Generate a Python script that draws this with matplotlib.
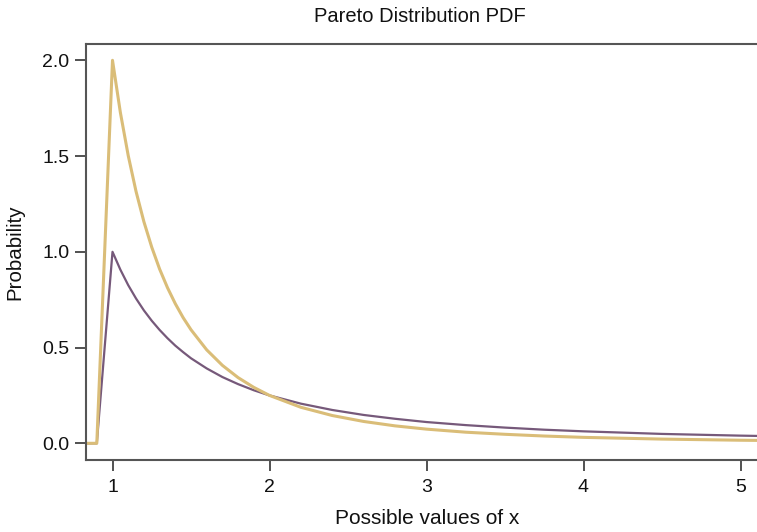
import matplotlib
matplotlib.use("Agg")
from matplotlib import pyplot as plt

# valores
x = [0.0, 0.9, 1.0, 1.05, 1.1, 1.15, 1.2, 1.25, 1.3, 1.35, 1.4, 1.45, 1.5, 1.6, 1.7,
     1.8, 1.9, 2.0, 2.2, 2.4, 2.6, 2.8, 3.0, 3.25, 3.5, 3.75, 4.0, 4.5, 5.0, 5.5]
pdf_a1 = [0.0, 0.0, 1.000, 0.907, 0.826, 0.756, 0.694, 0.640, 0.592, 0.549, 0.510, 0.476,
          0.444, 0.391, 0.346, 0.309, 0.277, 0.250, 0.207, 0.174, 0.148, 0.128, 0.111,
          0.095, 0.082, 0.071, 0.0625, 0.049, 0.040, 0.033]
pdf_a2 = [0.0, 0.0, 2.000, 1.728, 1.503, 1.315, 1.157, 1.024, 0.910, 0.813, 0.729, 0.656,
          0.593, 0.488, 0.407, 0.343, 0.292, 0.250, 0.188, 0.145, 0.114, 0.091, 0.074,
          0.058, 0.047, 0.038, 0.031, 0.022, 0.016, 0.012]
xticks = [1, 2, 3, 4, 5]
yticks = [0.0, 0.5, 1.0, 1.5, 2.0]

plt.rcParams['font.family'] = ['Liberation Sans', 'DejaVu Sans']

W, H = 757, 532
fig = plt.figure(figsize=(W / 100, H / 100), dpi=100)
# eixo passa da borda direita (cortado como no original)
left, right, top, bottom = 86, 770, 44, 460
ax = fig.add_axes([left / W, 1 - bottom / H, (right - left) / W, (bottom - top) / H])

ax.plot(x, pdf_a1, color='#76597a', lw=1.6)
ax.plot(x, pdf_a2, color='#dabd78', lw=2.2)

# px: x=1 em 112.5, 157 px por unidade; y=0 em 443.3, 191.5 px por unidade
ax.set_xlim(1 - (112.5 - left) / 157, 1 + (right - 112.5) / 157)
ax.set_ylim(-(bottom - 443.3) / 191.5, (443.3 - top) / 191.5)

ax.set_xticks(xticks)
ax.set_xticklabels([str(t) for t in xticks])
ax.set_yticks(yticks)
ax.set_yticklabels([f"{t:.1f}" for t in yticks])
ax.tick_params(direction='out', length=8, width=1.2, color='#333333',
               labelsize=14, labelcolor='#111111')
ax.tick_params(axis='x', pad=6)
ax.tick_params(axis='y', pad=4)
for s in ax.spines.values():
    s.set_color('#555555')
    s.set_linewidth(1.5)

fig.text(420 / W, 1 - 17 / H, 'Pareto Distribution PDF', ha='center', va='center',
         fontsize=14.5, color='#111111')
fig.text(427 / W, 1 - 519 / H, 'Possible values of x', ha='center', va='center',
         fontsize=15, color='#111111')
fig.text(15 / W, 1 - 252 / H, 'Probability', ha='center', va='center',
         rotation=90, fontsize=14.8, color='#111111')

fig.savefig('out.png', dpi=100)
